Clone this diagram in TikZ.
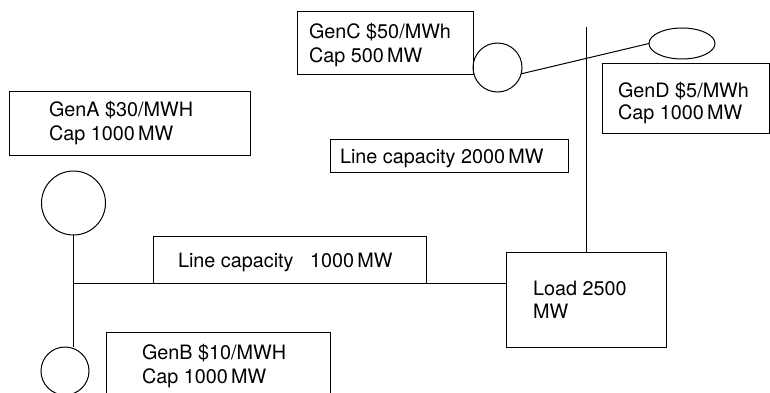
\documentclass[tikz,border=0pt]{standalone}
\usepackage{fontspec}
\setmainfont{TeX Gyre Heros}
\usetikzlibrary{shapes.geometric}
\begin{document}
\begin{tikzpicture}[x=1pt,y=-1pt,
  every node/.style={inner sep=0pt,outer sep=0pt},
  wire/.style={line width=1pt,black},
  boxnode/.style={draw,line width=1pt,rectangle},
  gennode/.style={draw,line width=1pt,circle},
  txt/.style={anchor=base west,align=left,font=\fontsize{19.8}{24}\selectfont}
]
\useasboundingbox (0,0) rectangle (770,393);
\clip (0,0) rectangle (770,393);
% boxes
\node[boxnode,minimum width=176pt,minimum height=63pt] (genCbox) at (385,43.5) {};
\node[boxnode,minimum width=167pt,minimum height=69pt] (genDbox) at (685.5,98.5) {};
\node[boxnode,minimum width=241pt,minimum height=63pt] (genAbox) at (129.5,123.5) {};
\node[boxnode,minimum width=224pt,minimum height=88pt] (genBbox) at (218,376) {};
\node[boxnode,minimum width=273pt,minimum height=47pt] (line1box) at (289.5,259.5) {};
\node[boxnode,minimum width=238pt,minimum height=33pt] (line2box) at (449,155.5) {};
\node[boxnode,minimum width=160pt,minimum height=95pt] (loadbox) at (586,299.5) {};
% generators
\node[gennode,minimum size=64pt] (circA) at (73.5,203) {};
\node[gennode,minimum size=48pt] (circB) at (65,371) {};
\node[gennode,minimum size=49pt] (circC) at (497.5,67.5) {};
\node[draw,line width=1pt,ellipse,minimum width=66pt,minimum height=31pt] (ellD) at (682,43.5) {};
% texts (anchored at the baseline of the last line)
\node[txt] (genCtxt) at (309,63) {GenC \$50/MWh\\Cap 500\,MW};
\node[txt] (genDtxt) at (618,120) {GenD \$5/MWh\\[-1.5pt]Cap 1000\,MW};
\node[txt] (genAtxt) at (49,140) {GenA \$30/MWH\\Cap 1000\,MW};
\node[txt] (genBtxt) at (142,383) {GenB \$10/MWH\\Cap 1000\,MW};
\node[txt] (loadtxt) at (533,318) {Load 2500\\[-1pt]MW};
\node[txt] (line1txt) at (178,267) {Line capacity~~~1000\,MW};
\node[txt] (line2txt) at (340,163) {Line capacity 2000\,MW};
% connectors
\coordinate (jA) at (circA.south |- line1box.south);
\coordinate (vtop) at (586,27);
\draw[wire] (circA.south) -- (circB.north -| circA.south);
\draw[wire] (jA) -- (loadbox.west |- jA);
\draw[wire] (vtop) -- (vtop |- loadbox.north);
\draw[wire] (circC.-15) -- (ellD.west);
\end{tikzpicture}
\end{document}
